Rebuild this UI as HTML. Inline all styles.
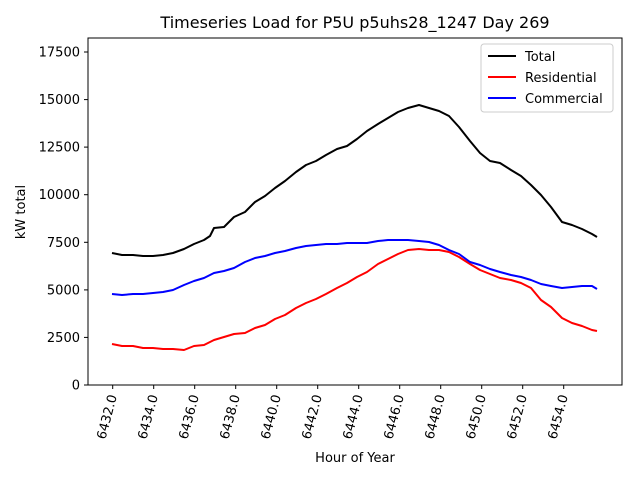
<!DOCTYPE html>
<html><head><style>body{margin:0;background:#fff}svg{display:block}text{font-family:"DejaVu Sans","Liberation Sans",sans-serif;fill:#000}</style></head>
<body>
<svg width="640" height="480" xmlns="http://www.w3.org/2000/svg">
<rect width="640" height="480" fill="#fff"/>
<text x="355" y="28" font-size="16" text-anchor="middle">Timeseries Load for P5U p5uhs28_1247  Day 269</text>
<g fill="none" stroke-width="2" stroke-linejoin="round">
<polyline stroke="#000" points="112,253 122,255 133,255 143,256 153,256 163,255 173,253 184,249 194,244 204,240 210,236 214,228 224,227 234,217 245,212 255,202 265,196 275,188 285,181 296,172 306,165 316,161 326,155 337,149 347,146 357,139 367,131 378,124 388,118 398,112 408,108 419,105 429,108 439,111 449,116 459,127 470,141 480,153 490,161 500,163 511,170 521,176 531,185 541,195 551,207 562,222 572,225 582,229 592,234 597,237"/>
<polyline stroke="#f00" points="112,344 122,346 133,346 143,348 153,348 163,349 173,349 184,350 194,346 204,345 214,340 224,337 234,334 245,333 255,328 265,325 275,319 285,315 296,308 306,303 316,299 326,294 337,288 347,283 357,277 367,272 378,264 388,259 398,254 408,250 419,249 429,250 439,250 449,252 459,257 470,264 480,270 490,274 500,278 511,280 521,283 531,288 541,300 551,307 562,318 572,323 582,326 592,330 597,331"/>
<polyline stroke="#00f" points="112,294 122,295 133,294 143,294 153,293 163,292 173,290 184,285 194,281 204,278 214,273 224,271 234,268 245,262 255,258 265,256 275,253 285,251 296,248 306,246 316,245 326,244 337,244 347,243 357,243 367,243 378,241 388,240 398,240 408,240 419,241 429,242 439,245 449,250 459,254 470,262 480,265 490,269 500,272 511,275 521,277 531,280 541,284 551,286 562,288 572,287 582,286 592,286 597,289"/>
</g>
<rect x="88" y="38" width="534" height="347" fill="none" stroke="#000" stroke-width="1"/>
<g stroke="#000" stroke-width="1">
<line x1="84" y1="385" x2="88" y2="385"/><line x1="84" y1="337.4" x2="88" y2="337.4"/><line x1="84" y1="289.9" x2="88" y2="289.9"/><line x1="84" y1="242.3" x2="88" y2="242.3"/><line x1="84" y1="194.7" x2="88" y2="194.7"/><line x1="84" y1="147.1" x2="88" y2="147.1"/><line x1="84" y1="99.6" x2="88" y2="99.6"/><line x1="84" y1="52" x2="88" y2="52"/>
<line x1="112.7" y1="385" x2="112.7" y2="389"/><line x1="153.7" y1="385" x2="153.7" y2="389"/><line x1="194.7" y1="385" x2="194.7" y2="389"/><line x1="235.7" y1="385" x2="235.7" y2="389"/><line x1="276.7" y1="385" x2="276.7" y2="389"/><line x1="317.7" y1="385" x2="317.7" y2="389"/><line x1="358.7" y1="385" x2="358.7" y2="389"/><line x1="399.7" y1="385" x2="399.7" y2="389"/><line x1="440.7" y1="385" x2="440.7" y2="389"/><line x1="481.7" y1="385" x2="481.7" y2="389"/><line x1="522.7" y1="385" x2="522.7" y2="389"/><line x1="563.7" y1="385" x2="563.7" y2="389"/>
</g>
<g font-size="13" text-anchor="end">
<text x="80" y="389.5">0</text><text x="80" y="342">2500</text><text x="80" y="294.5">5000</text><text x="80" y="247">7500</text><text x="80" y="199">10000</text><text x="80" y="151.5">12500</text><text x="80" y="104">15000</text><text x="80" y="56.5">17500</text>
</g>
<g font-size="13" text-anchor="end">
<text transform="translate(117,396) rotate(-75)">6432.0</text>
<text transform="translate(158,396) rotate(-75)">6434.0</text>
<text transform="translate(199,396) rotate(-75)">6436.0</text>
<text transform="translate(240,396) rotate(-75)">6438.0</text>
<text transform="translate(281,396) rotate(-75)">6440.0</text>
<text transform="translate(322,396) rotate(-75)">6442.0</text>
<text transform="translate(363,396) rotate(-75)">6444.0</text>
<text transform="translate(404,396) rotate(-75)">6446.0</text>
<text transform="translate(445,396) rotate(-75)">6448.0</text>
<text transform="translate(486,396) rotate(-75)">6450.0</text>
<text transform="translate(527,396) rotate(-75)">6452.0</text>
<text transform="translate(568,396) rotate(-75)">6454.0</text>
</g>
<text x="355" y="462" font-size="13" text-anchor="middle">Hour of Year</text>
<text transform="translate(25,212) rotate(-90)" font-size="13" text-anchor="middle">kW total</text>
<rect x="481" y="44" width="132" height="68" rx="3" fill="#fff" stroke="#ccc"/>
<g stroke-width="2"><line x1="488" y1="56" x2="516" y2="56" stroke="#000"/><line x1="488" y1="77" x2="516" y2="77" stroke="#f00"/><line x1="488" y1="98" x2="516" y2="98" stroke="#00f"/></g>
<g font-size="13"><text x="525" y="61">Total</text><text x="525" y="82">Residential</text><text x="525" y="103">Commercial</text></g>
</svg>
</body></html>
